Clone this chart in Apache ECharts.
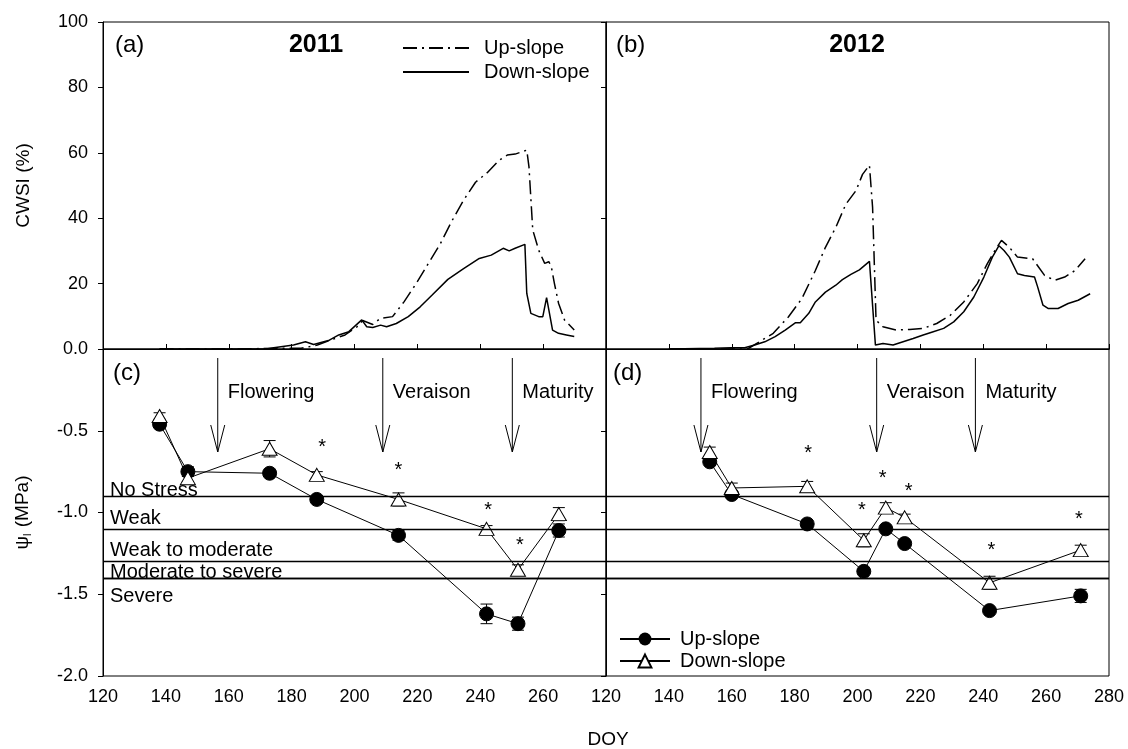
<!DOCTYPE html>
<html>
<head>
<meta charset="utf-8">
<script src="https://cdn.jsdelivr.net/npm/echarts@6/dist/echarts.min.js"></script>
<style>
  html, body { margin: 0; padding: 0; background: #fff; }
  #chart { width: 1128px; height: 749px; }
</style>
</head>
<body>
<div id="chart"></div>
<script>
// ---- CWSI (%) daily curves ----
var cwsiDoyUp2011 = [138, 160, 175.6, 183, 188.2, 193.2, 197, 200.8, 202.6, 205.8, 208.3, 212.1, 215.8, 219.6, 223.4, 227.2, 230.9, 234.7, 238.5, 242.3, 246, 248.6, 251.1, 254.8, 255.5, 256.7, 258.6, 260.5, 261.8, 262.6, 263.6, 264.9, 266.8, 269.9];
var cwsiUp2011 = [0, 0, 0.2, 0.2, 1.2, 3.0, 4.3, 6.8, 8.7, 7.5, 9.4, 9.9, 14.5, 20, 26, 32, 39, 45.5, 51, 54, 57.7, 59.3, 59.6, 60.8, 55.7, 36.4, 30.2, 26.2, 26.7, 25.2, 20, 14, 8.9, 5.8];
var cwsiDoyDown2011 = [138, 150, 165, 172, 174.3, 180.6, 184.4, 187, 192, 195, 198.2, 202.3, 203.9, 205.8, 208.3, 210.2, 213.3, 217.1, 220.9, 224.7, 229.7, 234.7, 239.7, 243.5, 247.3, 249.2, 251.1, 254.2, 254.8, 256.1, 258.6, 259.9, 261.1, 263, 264.9, 267.4, 269.9];
var cwsiDown2011 = [0, 0, 0, 0, 0.4, 1.2, 2.2, 1.4, 2.7, 4.3, 5.3, 8.9, 6.8, 6.6, 7.3, 6.8, 7.8, 9.9, 12.9, 16.5, 21.3, 24.6, 27.7, 28.7, 30.8, 30.0, 30.8, 32.0, 17, 10.9, 9.9, 9.9, 15.7, 5.8, 4.8, 4.3, 3.8];

var cwsiDoyUp2012 = [140, 165, 173.2, 178, 182.3, 186.6, 189.8, 193.1, 196.3, 199.5, 201.6, 203.8, 204.8, 205.9, 208.1, 212.3, 216.6, 220.9, 225.2, 229.5, 233.8, 238.1, 241.3, 244, 245.8, 248.3, 250.9, 255.7, 259.5, 262.7, 265.9, 269.2, 272.4];
var cwsiUp2012 = [0, 0, 4.8, 9.8, 15.4, 24, 31.1, 37.2, 44.3, 48.4, 53.4, 56.2, 43.3, 8.8, 6.8, 5.8, 6.0, 6.3, 7.8, 10.3, 14.4, 20, 26.1, 30.6, 33.2, 31.1, 28.1, 27.6, 22.5, 21, 22, 24, 27.6];
var cwsiDoyDown2012 = [140, 154.5, 159.8, 164.1, 167.3, 170.5, 173.8, 177, 180.2, 181.8, 184.5, 186.6, 189.8, 193.1, 195.2, 197.9, 200.6, 203.8, 205.7, 208.1, 211.3, 214.5, 217.7, 220.9, 224.1, 227.4, 230.6, 233.8, 237, 240.2, 242.9, 245, 246.6, 248.3, 250.9, 253.1, 256.3, 257.3, 259, 260.6, 263.8, 267, 270.2, 274];
var cwsiDown2012 = [0, 0.2, 0.4, 0.4, 1.2, 2.2, 3.8, 5.8, 8.0, 8.0, 10.9, 14.4, 17.4, 19.5, 21.2, 22.8, 24.2, 26.8, 1.2, 1.7, 1.2, 2.2, 3.2, 4.3, 5.3, 6.3, 8.3, 11.4, 15.9, 22, 28.1, 31.6, 30.1, 28.1, 23, 22.5, 22, 19, 13.4, 12.4, 12.4, 13.9, 14.9, 16.9];

// ---- leaf water potential (MPa) ----
var psiDoy2011 = [138, 147, 173, 188, 214, 242, 252, 265];
var psiUp2011 = [-0.46, -0.75, -0.76, -0.92, -1.14, -1.62, -1.68, -1.11];
var psiDown2011 = [-0.41, -0.79, -0.61, -0.77, -0.92, -1.10, -1.35, -1.01];
var errUp2011 = [0.02, 0.03, 0.02, 0.02, 0.03, 0.06, 0.04, 0.04];
var errDown2011 = [0.02, 0.02, 0.05, 0.02, 0.04, 0.02, 0.03, 0.04];

var psiDoy2012 = [153, 160, 184, 202, 209, 215, 242, 271];
var psiUp2012 = [-0.69, -0.89, -1.07, -1.36, -1.10, -1.19, -1.60, -1.51];
var psiDown2012 = [-0.63, -0.85, -0.84, -1.17, -0.97, -1.03, -1.43, -1.23];
var errUp2012 = [0.02, 0.02, 0.02, 0.01, 0.01, 0.01, 0.01, 0.04];
var errDown2012 = [0.03, 0.03, 0.03, 0.04, 0.03, 0.02, 0.04, 0.03];

// significant differences (*)
var starDoy2011 = [189.7, 214, 242.5, 252.6];
var starVal2011 = [-0.57, -0.71, -0.96, -1.17];
var starDoy2012 = [184.3, 201.4, 208, 216.3, 242.6, 270.4];
var starVal2012 = [-0.61, -0.96, -0.76, -0.84, -1.20, -1.01];

// phenology
var stageNames = ['Flowering', 'Veraison', 'Maturity'];
var stageDoy2011 = [156.5, 209, 250.2];
var stageDoy2012 = [150.2, 206.1, 237.5];
var arrowTip = -0.63;

// stress classes
var zoneLines = [-0.9, -1.1, -1.3, -1.4];
var zoneNames = ['No Stress', 'Weak', 'Weak to moderate', 'Moderate to severe', 'Severe'];
var zoneLabelGap = [-4, 0, 1, -5, 9];

var FONT = "'Liberation Sans', Arial, sans-serif";

function pairs(xs, ys) {
    return xs.map(function (x, i) { return [x, ys[i]]; });
}
function triples(xs, ys, es) {
    return xs.map(function (x, i) { return [x, ys[i], es[i]]; });
}

function errorBarItem(params, api) {
    var x = api.value(0), y = api.value(1), e = api.value(2);
    var hi = api.coord([x, y + e]);
    var lo = api.coord([x, y - e]);
    var w = 6;
    var st = { stroke: '#000', lineWidth: 1 };
    return {
        type: 'group',
        children: [
            { type: 'line', shape: { x1: hi[0], y1: hi[1], x2: lo[0], y2: lo[1] }, style: st },
            { type: 'line', shape: { x1: hi[0] - w, y1: hi[1], x2: hi[0] + w, y2: hi[1] }, style: st },
            { type: 'line', shape: { x1: lo[0] - w, y1: lo[1], x2: lo[0] + w, y2: lo[1] }, style: st }
        ]
    };
}

function arrowItem(params, api) {
    var tip = api.coord([api.value(0), api.value(1)]);
    var top = params.coordSys.y + 9;
    var st = { stroke: '#000', lineWidth: 1, fill: null };
    return {
        type: 'group',
        children: [
            { type: 'line', shape: { x1: tip[0], y1: top, x2: tip[0], y2: tip[1] }, style: st },
            { type: 'polyline', shape: { points: [[tip[0] - 7, tip[1] - 27], [tip[0], tip[1]], [tip[0] + 7, tip[1] - 27]] }, style: st },
            {
                type: 'text', x: tip[0] + 10, y: params.coordSys.y + 43,
                style: {
                    text: stageNames[params.dataIndex], font: '20px ' + FONT, fill: '#000',
                    align: 'left', verticalAlign: 'middle', textAlign: 'left', textVerticalAlign: 'middle'
                }
            }
        ]
    };
}

function starItem(params, api) {
    var p = api.coord([api.value(0), api.value(1)]);
    return {
        type: 'text', x: p[0], y: p[1] + 5,
        style: {
            text: '*', font: '20px ' + FONT, fill: '#000',
            align: 'center', verticalAlign: 'middle', textAlign: 'center', textVerticalAlign: 'middle'
        }
    };
}

function zoneMarkLine(withLabels) {
    var data = zoneLines.map(function (v, i) {
        return { yAxis: v, label: { show: withLabels, formatter: zoneNames[i], position: 'insideStartTop', distance: [7, zoneLabelGap[i]] } };
    });
    data.push({ yAxis: zoneLines[3], label: { show: withLabels, formatter: zoneNames[4], position: 'insideStartBottom', distance: [7, zoneLabelGap[4]] } });
    return {
        silent: true,
        symbol: ['none', 'none'],
        lineStyle: { color: '#000', type: 'solid', width: 1.3 },
        label: { color: '#000', fontSize: 20, fontFamily: FONT },
        data: data
    };
}

var grids = [
    { left: 103, top: 22, width: 503, height: 327 },
    { left: 606, top: 22, width: 503, height: 327 },
    { left: 103, top: 349, width: 503, height: 327 },
    { left: 606, top: 349, width: 503, height: 327 }
].map(function (g) {
    g.show = true;
    g.borderColor = '#000';
    g.borderWidth = 1;
    g.containLabel = false;
    return g;
});

function xAx(gi, showLabels, hideMax) {
    return {
        type: 'value', gridIndex: gi, min: 120, max: 280, interval: 20,
        axisLine: { show: true, lineStyle: { color: '#000', width: 1 } },
        axisTick: { show: true, inside: true, length: 5, lineStyle: { color: '#000' } },
        splitLine: { show: false },
        axisLabel: { show: showLabels, showMaxLabel: !hideMax, color: '#000', fontSize: 18, fontFamily: FONT, margin: 12 }
    };
}

var yAxes = [
    {
        type: 'value', gridIndex: 0, min: 0, max: 100, interval: 20,
        name: 'CWSI (%)', nameLocation: 'middle', nameGap: 70,
        nameTextStyle: { color: '#000', fontSize: 19, fontFamily: FONT },
        axisLine: { show: true, lineStyle: { color: '#000' } },
        axisTick: { show: true, length: 5, lineStyle: { color: '#000' } },
        splitLine: { show: false },
        axisLabel: { color: '#000', fontSize: 18, fontFamily: FONT, margin: 15,
            formatter: function (v) { return v === 0 ? '0.0' : v; } }
    },
    {
        type: 'value', gridIndex: 1, min: 0, max: 100, interval: 40,
        axisLine: { show: true, lineStyle: { color: '#000' } },
        axisTick: { show: true, length: 5, lineStyle: { color: '#000' } },
        splitLine: { show: false },
        axisLabel: { show: false }
    },
    {
        type: 'value', gridIndex: 2, min: -2, max: 0, interval: 0.5,
        name: '{a|ψ}{b|l} (MPa)', nameLocation: 'middle', nameGap: 70,
        nameTextStyle: { color: '#000', fontSize: 19, fontFamily: FONT,
            rich: { a: { fontSize: 19, fontFamily: FONT, color: '#000' },
                    b: { fontSize: 11, fontFamily: FONT, color: '#000', padding: [9, 1, 0, 0] } } },
        axisLine: { show: true, lineStyle: { color: '#000' } },
        axisTick: { show: true, length: 5, lineStyle: { color: '#000' } },
        splitLine: { show: false },
        axisLabel: { color: '#000', fontSize: 18, fontFamily: FONT, margin: 15, showMaxLabel: false,
            formatter: function (v) { return v.toFixed(1); } }
    },
    {
        type: 'value', gridIndex: 3, min: -2, max: 0, interval: 0.5,
        axisLine: { show: true, lineStyle: { color: '#000' } },
        axisTick: { show: true, length: 5, lineStyle: { color: '#000' } },
        splitLine: { show: false },
        axisLabel: { show: false }
    }
];

var dashDot = [14, 5, 2, 5];

function cwsiSeries(name, gi, data, dashed) {
    return {
        name: name, type: 'line', xAxisIndex: gi, yAxisIndex: gi, data: data,
        showSymbol: false, symbol: 'none', silent: true,
        lineStyle: { color: '#000', width: 1.5, type: dashed ? dashDot : 'solid' },
        itemStyle: { color: '#000' }
    };
}

function psiSeries(name, gi, data, up, markLine) {
    var s = {
        name: name, type: 'line', xAxisIndex: gi, yAxisIndex: gi, data: data, z: 4,
        symbol: up ? 'circle' : 'triangle',
        symbolSize: up ? 14 : [15, 13],
        lineStyle: { color: '#000', width: 1 },
        itemStyle: up ? { color: '#000', borderColor: '#000' } : { color: '#fff', borderColor: '#000', borderWidth: 1 }
    };
    if (markLine) s.markLine = markLine;
    return s;
}

function errSeries(gi, data) {
    return { type: 'custom', xAxisIndex: gi, yAxisIndex: gi, data: data, renderItem: errorBarItem, z: 3, silent: true };
}

var option = {
    animation: false,
    backgroundColor: '#fff',
    textStyle: { fontFamily: FONT },
    grid: grids,
    xAxis: [xAx(0, false, false), xAx(1, false, false), xAx(2, true, true), xAx(3, true, false)],
    yAxis: yAxes,
    legend: [
        {
            data: ['CWSI Up-slope', 'CWSI Down-slope'],
            orient: 'vertical', left: 397, top: 33, itemWidth: 66, itemHeight: 14, itemGap: 4,
            formatter: function (n) { return n.replace('CWSI ', ''); },
            itemStyle: { color: 'rgba(0,0,0,0)', borderColor: 'rgba(0,0,0,0)', borderWidth: 0 },
            textStyle: { color: '#000', fontSize: 20, fontFamily: FONT, padding: [0, 0, 0, 10] },
            selectedMode: false
        },
        {
            data: ['Up-slope', 'Down-slope'],
            orient: 'vertical', left: 614, top: 624, itemWidth: 50, itemHeight: 16, itemGap: 2,
            textStyle: { color: '#000', fontSize: 20, fontFamily: FONT, padding: [0, 0, 0, 5] },
            selectedMode: false
        }
    ],
    graphic: [
        { type: 'text', x: 115, y: 45, style: { text: '(a)', font: '24px ' + FONT, fill: '#000', verticalAlign: 'middle', textVerticalAlign: 'middle' } },
        { type: 'text', x: 616, y: 45, style: { text: '(b)', font: '24px ' + FONT, fill: '#000', verticalAlign: 'middle', textVerticalAlign: 'middle' } },
        { type: 'text', x: 113, y: 373, style: { text: '(c)', font: '24px ' + FONT, fill: '#000', verticalAlign: 'middle', textVerticalAlign: 'middle' } },
        { type: 'text', x: 613, y: 373, style: { text: '(d)', font: '24px ' + FONT, fill: '#000', verticalAlign: 'middle', textVerticalAlign: 'middle' } },
        { type: 'text', x: 316, y: 45, style: { text: '2011', font: 'bold 25px ' + FONT, fill: '#000', align: 'center', textAlign: 'center', verticalAlign: 'middle', textVerticalAlign: 'middle' } },
        { type: 'text', x: 857, y: 45, style: { text: '2012', font: 'bold 25px ' + FONT, fill: '#000', align: 'center', textAlign: 'center', verticalAlign: 'middle', textVerticalAlign: 'middle' } },
        { type: 'text', x: 608, y: 740, style: { text: 'DOY', font: '19px ' + FONT, fill: '#000', align: 'center', textAlign: 'center', verticalAlign: 'middle', textVerticalAlign: 'middle' } }
    ],
    series: [
        cwsiSeries('CWSI Up-slope', 0, pairs(cwsiDoyUp2011, cwsiUp2011), true),
        cwsiSeries('CWSI Down-slope', 0, pairs(cwsiDoyDown2011, cwsiDown2011), false),
        cwsiSeries('CWSI Up-slope', 1, pairs(cwsiDoyUp2012, cwsiUp2012), true),
        cwsiSeries('CWSI Down-slope', 1, pairs(cwsiDoyDown2012, cwsiDown2012), false),

        errSeries(2, triples(psiDoy2011, psiUp2011, errUp2011)),
        errSeries(2, triples(psiDoy2011, psiDown2011, errDown2011)),
        errSeries(3, triples(psiDoy2012, psiUp2012, errUp2012)),
        errSeries(3, triples(psiDoy2012, psiDown2012, errDown2012)),

        psiSeries('Up-slope', 2, pairs(psiDoy2011, psiUp2011), true, zoneMarkLine(true)),
        psiSeries('Down-slope', 2, pairs(psiDoy2011, psiDown2011), false),
        psiSeries('Up-slope', 3, pairs(psiDoy2012, psiUp2012), true, zoneMarkLine(false)),
        psiSeries('Down-slope', 3, pairs(psiDoy2012, psiDown2012), false),

        { type: 'custom', xAxisIndex: 2, yAxisIndex: 2, silent: true, renderItem: arrowItem,
          data: stageDoy2011.map(function (d) { return [d, arrowTip]; }) },
        { type: 'custom', xAxisIndex: 3, yAxisIndex: 3, silent: true, renderItem: arrowItem,
          data: stageDoy2012.map(function (d) { return [d, arrowTip]; }) },

        { type: 'custom', xAxisIndex: 2, yAxisIndex: 2, silent: true, renderItem: starItem, data: pairs(starDoy2011, starVal2011) },
        { type: 'custom', xAxisIndex: 3, yAxisIndex: 3, silent: true, renderItem: starItem, data: pairs(starDoy2012, starVal2012) }
    ]
};

var chart = echarts.init(document.getElementById('chart'));
chart.setOption(option);
</script>
</body>
</html>
